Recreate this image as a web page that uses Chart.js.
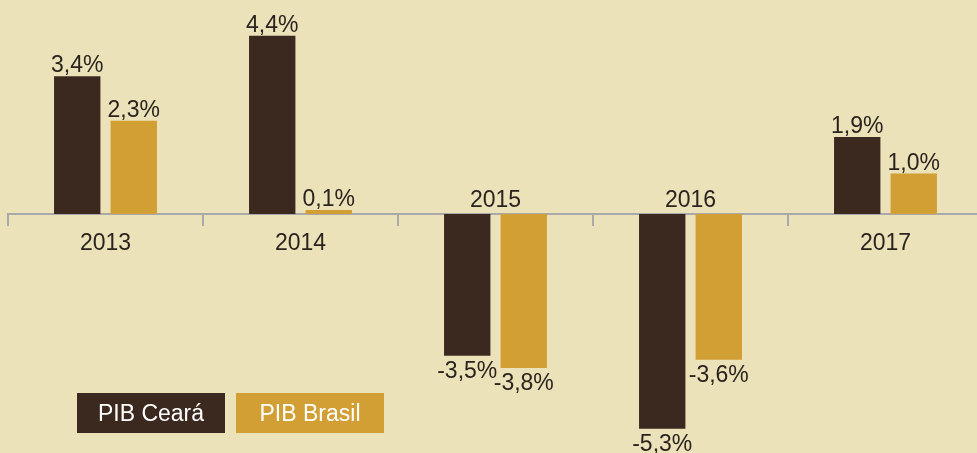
<!DOCTYPE html>
<html>
<head>
<meta charset="utf-8">
<script src="https://cdn.jsdelivr.net/npm/chart.js@4.4.1/dist/chart.umd.min.js"></script>
<style>
    html, body { margin: 0; padding: 0; overflow: hidden; background: #ebe2b9; }
    canvas { display: block; }
</style>
</head>
<body>
<canvas id="pibChart" width="983" height="453"></canvas>
<script>
// PIB growth, % per year
const years = ['2013', '2014', '2015', '2016', '2017'];
const pibCeara = [3.4, 4.4, -3.5, -5.3, 1.9];
const pibBrasil = [2.3, 0.1, -3.8, -3.6, 1.0];
const seriesNames = ['PIB Ceará', 'PIB Brasil'];
const seriesColors = ['#3b291f', '#d29f35'];

const FONT = '23px "Liberation Sans", Arial, sans-serif';
const TEXT_COLOR = '#2a231e';

function fmt(v) {
    return v.toFixed(1).replace('.', ',') + '%';
}

const labelPlugin = {
    id: 'pibLabels',
    afterDatasetsDraw(chart) {
        const ctx = chart.ctx;
        const xScale = chart.scales.x;
        const yScale = chart.scales.y;
        const zero = yScale.getPixelForValue(0);

        ctx.save();
        ctx.font = FONT;
        ctx.textAlign = 'center';
        ctx.textBaseline = 'alphabetic';
        ctx.fillStyle = TEXT_COLOR;

        // value labels over / under each bar
        chart.data.datasets.forEach((ds, i) => {
            chart.getDatasetMeta(i).data.forEach((bar, j) => {
                const v = ds.data[j];
                if (v >= 0) ctx.fillText(fmt(v), bar.x, bar.y - 4);
                else ctx.fillText(fmt(v), bar.x, bar.y + 22);
            });
        });

        // year labels: below the axis, above it when the bars go down
        years.forEach((yr, j) => {
            const px = xScale.getPixelForValue(j);
            if (pibCeara[j] < 0) ctx.fillText(yr, px, zero - 7);
            else ctx.fillText(yr, px, zero + 36);
        });

        // legend boxes with the name inside
        const boxes = [{ x: 77, w: 148 }, { x: 236, w: 148 }];
        chart.data.datasets.forEach((ds, i) => {
            const b = boxes[i];
            ctx.fillStyle = ds.backgroundColor;
            ctx.fillRect(b.x, 393, b.w, 40);
            ctx.fillStyle = '#ffffff';
            ctx.fillText(ds.label, b.x + b.w / 2, 421);
        });
        ctx.restore();
    }
};

new Chart(document.getElementById('pibChart'), {
    type: 'bar',
    data: {
        labels: years,
        datasets: [
            { label: seriesNames[0], data: pibCeara, backgroundColor: seriesColors[0] },
            { label: seriesNames[1], data: pibBrasil, backgroundColor: seriesColors[1] }
        ]
    },
    options: {
        responsive: false,
        animation: false,
        devicePixelRatio: 1,
        layout: { padding: { left: 8, right: 0, top: 0, bottom: 0 } },
        datasets: {
            bar: { barPercentage: 0.82, categoryPercentage: 0.58 }
        },
        scales: {
            x: {
                position: { y: 0 },
                grid: {
                    offset: true,
                    drawOnChartArea: false,
                    drawTicks: true,
                    tickLength: 11,
                    color: '#a9a9a9',
                    lineWidth: 2
                },
                border: { display: true, color: '#a9a9a9', width: 2 },
                ticks: { display: false }
            },
            y: {
                display: false,
                min: -5.9,
                max: 5.284
            }
        },
        plugins: {
            legend: { display: false },
            tooltip: { enabled: false }
        }
    },
    plugins: [labelPlugin]
});
</script>
</body>
</html>
